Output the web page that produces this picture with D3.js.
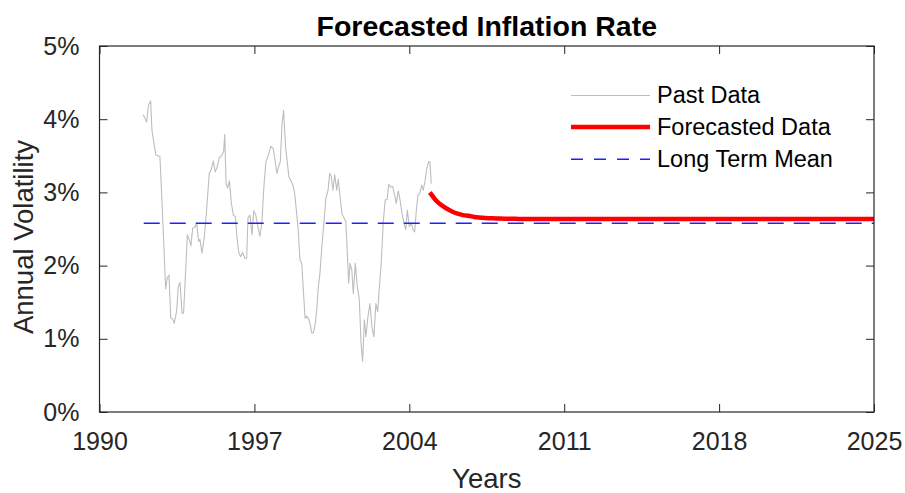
<!DOCTYPE html>
<html>
<head>
<meta charset="utf-8">
<script src="https://cdn.jsdelivr.net/npm/d3@7"></script>
<style>
  html, body { margin: 0; padding: 0; background: #fff; }
  svg { display: block; font-family: "Liberation Sans", Arial, Helvetica, sans-serif; }
</style>
</head>
<body>
<svg id="chart" width="905" height="493"></svg>
<script>
// Historical inflation volatility (decimal years, percent)
const pastYears = [
  1991.98, 1992.13, 1992.21, 1992.31, 1992.37, 1992.46, 1992.55, 1992.73, 1992.82, 1992.91,
  1992.99, 1993.06, 1993.14, 1993.22, 1993.31, 1993.38, 1993.49, 1993.56, 1993.64, 1993.73,
  1993.80, 1993.88, 1993.97, 1994.06, 1994.13, 1994.21, 1994.30, 1994.39, 1994.48, 1994.54,
  1994.63, 1994.74, 1994.84, 1994.96, 1995.05, 1995.14, 1995.23, 1995.31, 1995.41, 1995.54,
  1995.61, 1995.66, 1995.72, 1995.79, 1995.87, 1995.96, 1996.05, 1996.14, 1996.21, 1996.29,
  1996.38, 1996.47, 1996.56, 1996.65, 1996.71, 1996.80, 1996.89, 1996.97, 1997.06, 1997.16,
  1997.25, 1997.34, 1997.43, 1997.52, 1997.61, 1997.74, 1997.85, 1997.94, 1998.02, 1998.10,
  1998.17, 1998.25, 1998.32, 1998.41, 1998.49, 1998.56, 1998.67, 1998.76, 1998.83, 1998.91,
  1998.98, 1999.06, 1999.14, 1999.21, 1999.29, 1999.36, 1999.44, 1999.51, 1999.59, 1999.66,
  1999.74, 1999.81, 1999.89, 1999.96, 2000.05, 2000.14, 2000.23, 2000.33, 2000.40, 2000.47,
  2000.55, 2000.63, 2000.72, 2000.79, 2000.87, 2000.96, 2001.05, 2001.13, 2001.20, 2001.26,
  2001.32, 2001.40, 2001.47, 2001.56, 2001.65, 2001.71, 2001.74, 2001.82, 2001.89, 2001.97,
  2002.04, 2002.13, 2002.22, 2002.31, 2002.40, 2002.49, 2002.57, 2002.64, 2002.73, 2002.82,
  2002.91, 2003.00, 2003.07, 2003.16, 2003.25, 2003.34, 2003.41, 2003.50, 2003.58, 2003.67,
  2003.76, 2003.84, 2003.91, 2004.00, 2004.09, 2004.17, 2004.24, 2004.32, 2004.39, 2004.48,
  2004.56, 2004.63, 2004.71, 2004.79, 2004.88, 2004.93, 2004.99
];
const pastValues = [
  4.06, 3.96, 4.19, 4.25, 3.85, 3.67, 3.51, 3.49, 2.90, 2.26,
  1.68, 1.83, 1.87, 1.28, 1.27, 1.21, 1.39, 1.71, 1.77, 1.35,
  1.35, 1.85, 2.42, 2.35, 2.27, 2.51, 2.52, 2.58, 2.33, 2.36,
  2.17, 2.40, 2.76, 3.26, 3.31, 3.43, 3.28, 3.34, 3.47, 3.51,
  3.56, 3.79, 3.12, 3.06, 3.16, 2.85, 2.69, 2.67, 2.40, 2.18,
  2.12, 2.18, 2.10, 2.10, 2.65, 2.69, 2.42, 2.75, 2.69, 2.53,
  2.40, 2.60, 3.08, 3.42, 3.49, 3.63, 3.60, 3.42, 3.26, 3.36,
  3.42, 3.94, 4.12, 3.62, 3.40, 3.21, 3.15, 3.08, 2.96, 2.71,
  2.49, 2.08, 2.03, 1.67, 1.28, 1.31, 1.28, 1.21, 1.08, 1.08,
  1.19, 1.37, 1.71, 1.89, 2.26, 2.58, 2.92, 3.03, 3.26, 3.22,
  3.03, 3.24, 3.03, 3.18, 2.94, 2.71, 2.65, 2.60, 2.17, 1.76,
  2.03, 1.94, 1.62, 2.03, 1.71, 1.60, 1.53, 0.94, 0.69, 1.26,
  1.03, 1.30, 1.48, 1.17, 1.03, 1.48, 1.37, 1.67, 2.03, 2.58,
  2.90, 2.90, 3.11, 3.07, 3.08, 2.96, 2.85, 3.02, 2.90, 2.71,
  2.58, 2.49, 2.76, 2.53, 2.58, 2.49, 2.46, 2.76, 2.96, 2.99,
  3.10, 3.03, 3.15, 3.33, 3.42, 3.42, 3.12
];

// Forecast path (decimal years, percent)
const forecastYears = [
  2004.93, 2005.18, 2005.43, 2005.68, 2005.93, 2006.18, 2006.43, 2006.68, 2006.93,
  2007.43, 2007.93, 2008.43, 2008.93, 2009.93, 2012, 2015, 2020, 2025
];
const forecastValues = [
  3.00, 2.90, 2.83, 2.78, 2.74, 2.71, 2.69, 2.68, 2.665,
  2.65, 2.645, 2.64, 2.638, 2.636, 2.635, 2.635, 2.635, 2.635
];

// Long-term mean level and its span
const meanYears = [1992, 2025];
const meanValue = 2.58;

// Axis ticks
const xTicks = [1990, 1997, 2004, 2011, 2018, 2025];
const yTicks = [0, 1, 2, 3, 4, 5];

const legendLabels = ["Past Data", "Forecasted Data", "Long Term Mean"];

const svg = d3.select("#chart");
const plotLeft = 99.5, plotRight = 874, plotTop = 46, plotBottom = 412;

const x = d3.scaleLinear().domain([1990, 2025]).range([plotLeft, plotRight]);
const y = d3.scaleLinear().domain([0, 5]).range([plotBottom, plotTop]);

const axisColor = "#262626";
const meanColor = "#1f1fff";

const linearLine = d3.line().x(d => x(d[0])).y(d => y(d[1]));
const smoothLine = d3.line().x(d => x(d[0])).y(d => y(d[1])).curve(d3.curveMonotoneX);

const past = pastYears.map((yr, i) => [yr, pastValues[i]]);
const forecast = forecastYears.map((yr, i) => [yr, forecastValues[i]]);
const meanLine = meanYears.map(yr => [yr, meanValue]);

svg.append("defs").append("clipPath").attr("id", "plot-clip")
  .append("rect").attr("x", plotLeft).attr("y", plotTop)
  .attr("width", plotRight - plotLeft).attr("height", plotBottom - plotTop);

const plot = svg.append("g").attr("clip-path", "url(#plot-clip)");

plot.append("path").datum(past)
  .attr("d", linearLine)
  .attr("fill", "none").attr("stroke", "#bdbdbd").attr("stroke-width", 1.1)
  .attr("stroke-linejoin", "round");

plot.append("path").datum(meanLine)
  .attr("d", linearLine)
  .attr("fill", "none").attr("stroke", meanColor).attr("stroke-width", 1.5)
  .attr("stroke-dasharray", "16,10");

plot.append("path").datum(forecast)
  .attr("d", smoothLine)
  .attr("fill", "none").attr("stroke", "#ff0000").attr("stroke-width", 4.5);

// Axes box with inward ticks on all four sides
const tickLen = 8;
svg.append("g").attr("transform", `translate(0,${plotBottom})`)
  .call(d3.axisBottom(x).tickValues(xTicks).tickSize(-tickLen).tickPadding(tickLen + 12).tickFormat(d3.format("d")))
  .call(g => g.select(".domain").remove());
svg.append("g").attr("transform", `translate(0,${plotTop})`)
  .call(d3.axisTop(x).tickValues(xTicks).tickSize(-tickLen).tickFormat(""))
  .call(g => g.select(".domain").remove());
svg.append("g").attr("transform", `translate(${plotLeft},0)`)
  .call(d3.axisLeft(y).tickValues(yTicks).tickSize(-tickLen).tickPadding(tickLen + 12).tickFormat(d => d + "%"))
  .call(g => g.select(".domain").remove());
svg.append("g").attr("transform", `translate(${plotRight},0)`)
  .call(d3.axisRight(y).tickValues(yTicks).tickSize(-tickLen).tickFormat(""))
  .call(g => g.select(".domain").remove());

svg.selectAll(".tick line").attr("stroke", axisColor).attr("stroke-width", 1);
svg.selectAll(".tick text").attr("fill", axisColor).attr("font-size", 25)
  .attr("font-family", "'Liberation Sans', Arial, sans-serif");

svg.append("rect")
  .attr("x", plotLeft).attr("y", plotTop)
  .attr("width", plotRight - plotLeft).attr("height", plotBottom - plotTop)
  .attr("fill", "none").attr("stroke", axisColor).attr("stroke-width", 1.2);

// Title and axis labels
svg.append("text").attr("x", (plotLeft + plotRight) / 2).attr("y", 36)
  .attr("text-anchor", "middle").attr("font-size", 28.5).attr("font-weight", "bold")
  .attr("fill", "#000").text("Forecasted Inflation Rate");

svg.append("text").attr("x", (plotLeft + plotRight) / 2).attr("y", 488)
  .attr("text-anchor", "middle").attr("font-size", 27.5)
  .attr("fill", axisColor).text("Years");

svg.append("text").attr("transform", `translate(33,${(plotTop + plotBottom) / 2 + 8}) rotate(-90)`)
  .attr("text-anchor", "middle").attr("font-size", 27.5)
  .attr("fill", axisColor).text("Annual Volatility");

// Legend
const legendStyles = [
  { color: "#bdbdbd", width: 1.1, dash: null, offset: 0.5 },
  { color: "#ff0000", width: 4.5, dash: null, offset: 0 },
  { color: meanColor, width: 1.5, dash: "12,11", offset: 0.2 }
];
const legend = svg.append("g");
legendLabels.forEach((label, i) => {
  const cy = 95 + i * 32;
  const s = legendStyles[i];
  legend.append("line").attr("x1", 571).attr("x2", 650)
    .attr("y1", cy + s.offset).attr("y2", cy + s.offset)
    .attr("stroke", s.color).attr("stroke-width", s.width)
    .attr("stroke-dasharray", s.dash);
  legend.append("text").attr("x", 657).attr("y", cy).attr("dy", "0.36em")
    .attr("font-size", 23.5).attr("fill", "#000").text(label);
});
</script>
</body>
</html>
